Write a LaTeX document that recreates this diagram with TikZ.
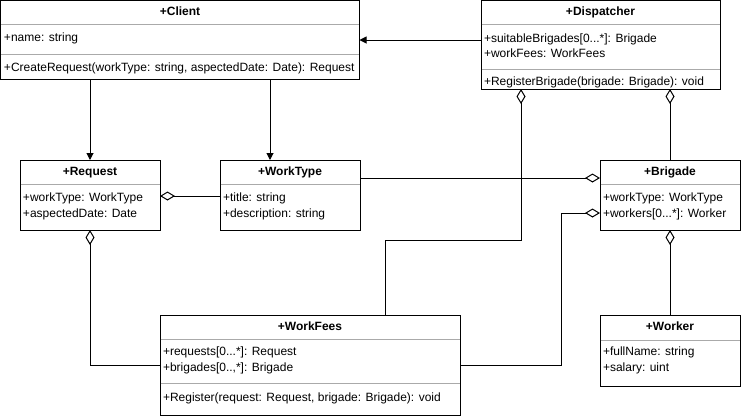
\documentclass[tikz,border=0pt]{standalone}
\usepackage{fontspec}
\setmainfont{Liberation Sans}
\usetikzlibrary{arrows.meta}
\definecolor{sepgray}{RGB}{170,170,170}
\begin{document}
\begin{tikzpicture}[x=1pt,y=-1pt,
  every node/.style={inner sep=0pt, outer sep=0pt},
  cls/.style={draw=black, line width=1pt, fill=white, rectangle, anchor=north west},
  txt/.style={font=\fontsize{12}{14}\selectfont, text height=9pt, text depth=3pt},
  ttl/.style={txt, font=\fontsize{12}{14}\selectfont\bfseries, anchor=center},
  mem/.style={txt, anchor=west},
  sep/.style={draw=sepgray, line width=1pt},
  conn/.style={draw=black, line width=1pt},
  agg/.style={conn, {Diamond[open, length=15pt, width=9pt]}-},
  dep/.style={conn, -{Triangle[length=7pt, width=7pt]}}
]
\useasboundingbox (0,0) rectangle (741,416);

% ---- class boxes ----
\node[cls, minimum width=359pt, minimum height=79pt]   (Client)     at (0.5,0.5) {};
\node[cls, minimum width=239pt, minimum height=88.5pt] (Dispatcher) at (481,0.5) {};
\node[cls, minimum width=140pt, minimum height=70pt]   (Request)    at (20,160) {};
\node[cls, minimum width=140pt, minimum height=70pt]   (WorkType)   at (220,160) {};
\node[cls, minimum width=140pt, minimum height=70pt]   (Brigade)    at (600,160) {};
\node[cls, minimum width=300pt, minimum height=100pt]  (WorkFees)   at (160,315) {};
\node[cls, minimum width=140pt, minimum height=71pt]   (Worker)     at (600,315) {};

% ---- compartment separators ----
\draw[sep] (1,24) -- (359,24);  \draw[sep] (1,54) -- (359,54);
\draw[sep] (481.5,24) -- (719.5,24);  \draw[sep] (481.5,69) -- (719.5,69);
\draw[sep] (20.5,184) -- (159.5,184);
\draw[sep] (220.5,184) -- (359.5,184);
\draw[sep] (600.5,184) -- (739.5,184);
\draw[sep] (160.5,339) -- (459.5,339);  \draw[sep] (160.5,383) -- (459.5,383);
\draw[sep] (600.5,340) -- (739.5,340);

% ---- Client ----
\node[ttl] (Client-t) at (180,12) {+Client};
\node[mem] (Client-a1) at (4,38.5) {+name: string};
\node[mem] (Client-m1) at (4,68.5) {+CreateRequest(workType: string, aspectedDate: Date): Request};

% ---- Dispatcher ----
\node[ttl] (Dispatcher-t) at (600.5,12) {+Dispatcher};
\node[mem] (Dispatcher-a1) at (484,39) {+suitableBrigades[0...*]: Brigade};
\node[mem] (Dispatcher-a2) at (484,54) {+workFees: WorkFees};
\node[mem] (Dispatcher-m1) at (484,82.5) {+RegisterBrigade(brigade: Brigade): void};

% ---- Request ----
\node[ttl] (Request-t) at (90,172) {+Request};
\node[mem] (Request-a1) at (23,198) {+workType: WorkType};
\node[mem] (Request-a2) at (23,214) {+aspectedDate: Date};

% ---- WorkType ----
\node[ttl] (WorkType-t) at (290,172) {+WorkType};
\node[mem] (WorkType-a1) at (223,198) {+title: string};
\node[mem] (WorkType-a2) at (223,214) {+description: string};

% ---- Brigade ----
\node[ttl] (Brigade-t) at (670,172) {+Brigade};
\node[mem] (Brigade-a1) at (603,198) {+workType: WorkType};
\node[mem] (Brigade-a2) at (603,214) {+workers[0...*]: Worker};

% ---- WorkFees ----
\node[ttl] (WorkFees-t) at (310,327) {+WorkFees};
\node[mem] (WorkFees-a1) at (163,352.5) {+requests[0...*]: Request};
\node[mem] (WorkFees-a2) at (163,368.5) {+brigades[0..,*]: Brigade};
\node[mem] (WorkFees-m1) at (163,398.5) {+Register(request: Request, brigade: Brigade): void};

% ---- Worker ----
\node[ttl] (Worker-t) at (670,327) {+Worker};
\node[mem] (Worker-a1) at (603,352.5) {+fullName: string};
\node[mem] (Worker-a2) at (603,368.5) {+salary: uint};

% ---- associations ----
\draw[dep] (Client.south -| Request.north) -- (Request.north);
\draw[dep] (Client.south -| 270,0) -- (WorkType.north -| 270,0);
\draw[dep] (Dispatcher.west |- 0,40) -- (Client.east |- 0,40);

% ---- aggregations ----
\draw[agg] (Request.east |- 0,196) -- (WorkType.west |- 0,196);
\draw[agg] (Brigade.west |- 0,178) -- (WorkType.east |- 0,178);
\draw[agg] (Dispatcher.south -| 521,0) |- (385,240) -- (WorkFees.north -| 385,0);
\draw[agg] (Dispatcher.south -| Brigade.north) -- (Brigade.north);
\draw[agg] (Brigade.west |- 0,213) -| (561,365) -- (WorkFees.east |- 0,365);
\draw[agg] (Request.south) |- (WorkFees.west |- 0,365);
\draw[agg] (Brigade.south) -- (Worker.north);
\end{tikzpicture}
\end{document}
